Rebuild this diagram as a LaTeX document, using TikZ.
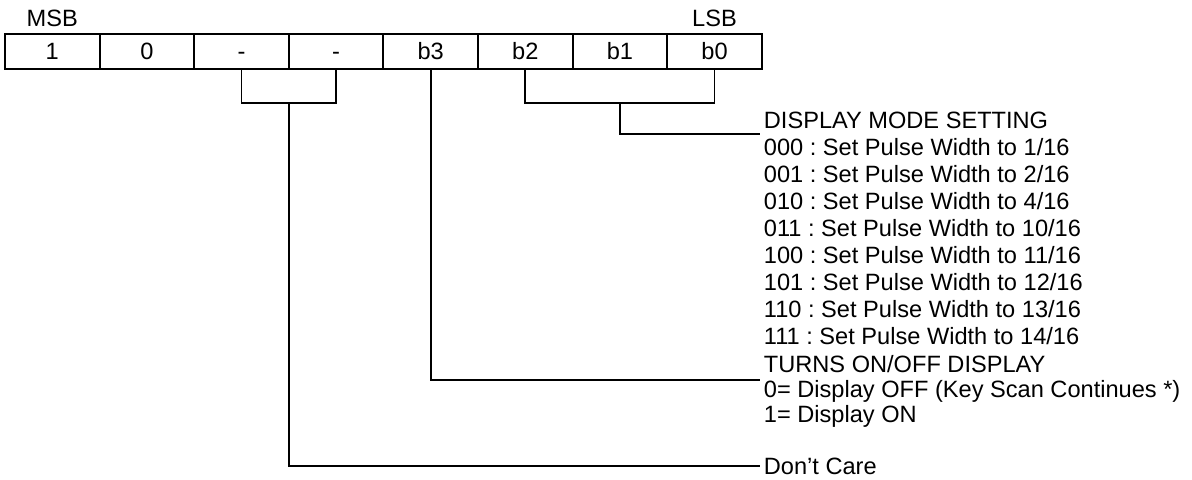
\documentclass[tikz,border=0pt]{standalone}
\usepackage{fontspec}
\setmainfont{Liberation Sans}
\usetikzlibrary{positioning,calc}
\frenchspacing

\begin{document}
\begin{tikzpicture}[x=0.75pt, y=-0.75pt, line width=1.4pt,
        every node/.style={font=\fontsize{17.7}{20.25}\selectfont, inner sep=0pt},
        bitcell/.style={draw, minimum width=70.95pt, minimum height=26.25pt, text height=12.6pt, text depth=0pt},
        note/.style={anchor=base west}]
        \useasboundingbox (0,0) rectangle (1192,479);

        % Command byte, MSB to LSB
        \foreach \lbl [count=\i] in {1,0,-,-,b3,b2,b1,b0}
            \node[bitcell] (bit\i) at ({5+94.6*(\i-0.5)},51.5) {\lbl};
        \node[above=4pt of bit1] (msb) {MSB};
        \node[above=4pt of bit8] (lsb) {LSB};

        % Descriptions
        \node[note] (modehead) at (763,128) {DISPLAY MODE SETTING};
        \foreach \code/\wdth [count=\k] in {000/1,001/2,010/4,011/10,100/11,101/12,110/13,111/14}
            \node[note] (mode\k) at (763,{128+27*\k}) {\code{} : Set Pulse Width to \wdth/16};
        \node[note] (disphead) at (763,372) {TURNS ON/OFF DISPLAY};
        \node[note] (dispoff) at (763,397) {0= Display OFF (Key Scan Continues *)};
        \node[note] (dispon) at (763,422) {1= Display ON};
        \node[note] (dontcare) at (763,474) {Don’t Care};

        % Brackets and leaders
        \draw (bit6.south) -- ++(0,33) -| (bit8.south);
        \draw ($(bit6.south)!0.5!(bit8.south)+(0,33)$) |- ([shift={(-2pt,-4.5pt)}]modehead.base west);
        \draw (bit5.south) |- ([shift={(-2pt,-6pt)}]disphead.base west);
        \draw (bit3.south) -- ++(0,33) -| (bit4.south);
        \draw ($(bit3.south)!0.5!(bit4.south)+(0,33)$) |- ([xshift=-2pt]dontcare.west);
    \end{tikzpicture}
\end{document}
